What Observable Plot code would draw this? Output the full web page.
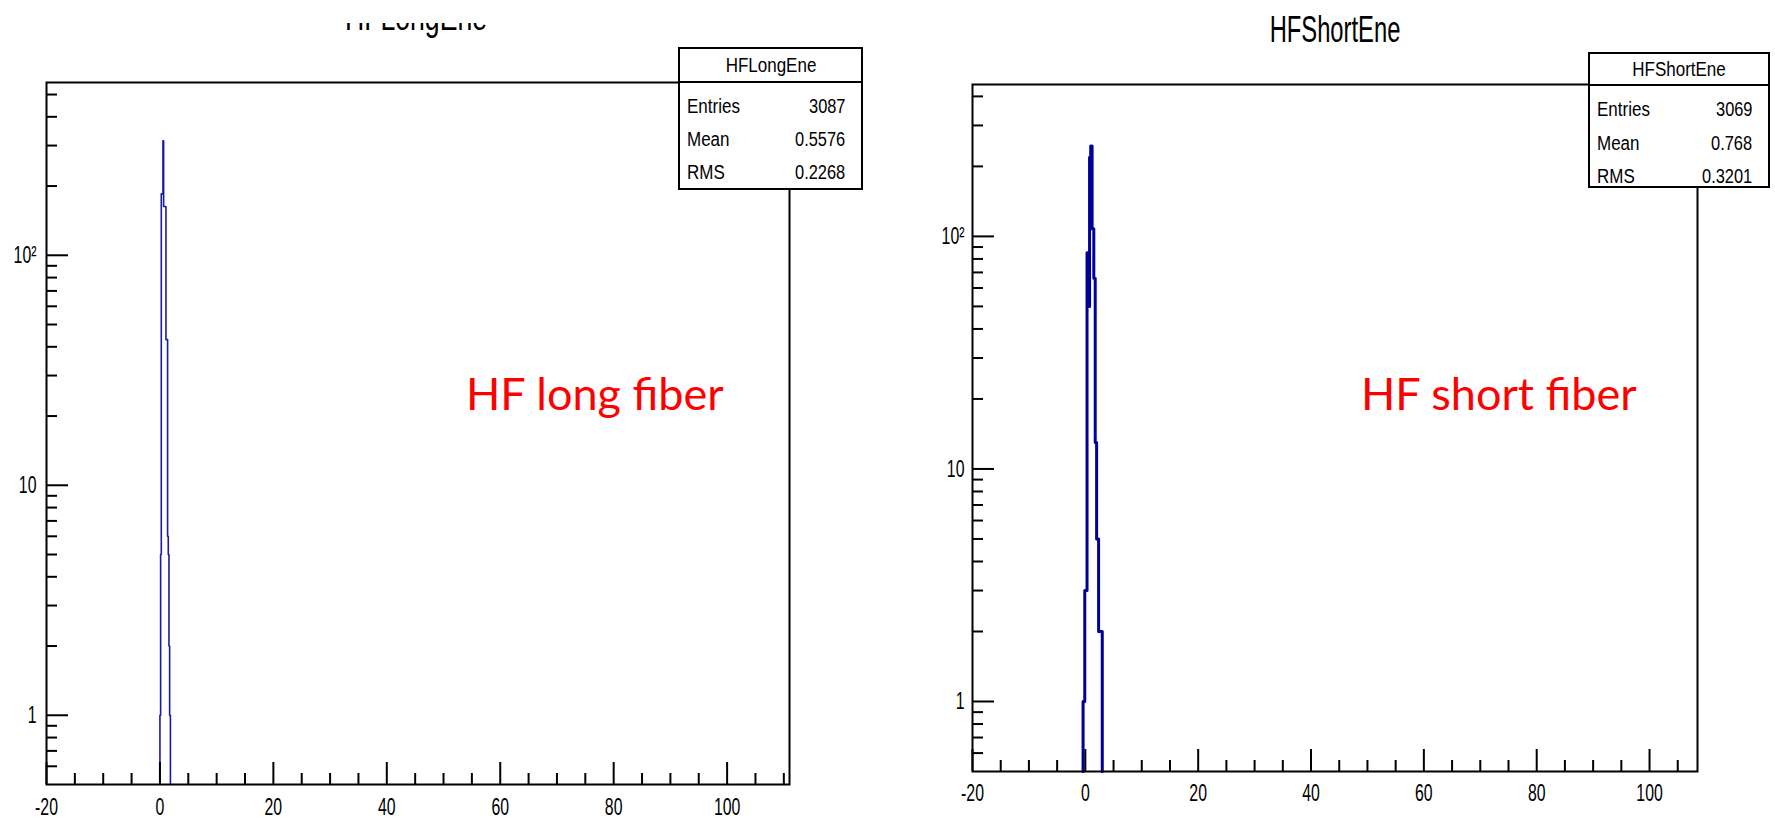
<!DOCTYPE html>
<html><head><meta charset="utf-8">
<script src="https://cdn.jsdelivr.net/npm/d3@7"></script>
<script src="https://cdn.jsdelivr.net/npm/@observablehq/plot@0.6"></script>
<style>
html,body{margin:0;padding:0;background:#fff;}
#wrap{position:relative;width:1775px;height:819px;overflow:hidden;background:#fff;font-family:"Liberation Sans",Arial,sans-serif;color:#000;}
.panel{position:absolute;top:0;}
.abs{position:absolute;white-space:nowrap;line-height:1;}
.sx{display:inline-block;}
.box{position:absolute;background:#fff;border:2px solid #000;box-sizing:border-box;}
.note{position:absolute;font-family:Lato,"Open Sans",sans-serif;color:#ff0000;font-size:45px;line-height:1;white-space:nowrap;}
</style></head>
<body><div id="wrap"></div>
<script>
// ---- data ----
const longEdges  = [0, 0.12, 0.24, 0.53, 0.65, 1.06, 1.35, 1.47, 1.59, 1.71, 1.85];
const longCounts = [1, 5, 185, 315, 163, 43, 6, 5, 2, 1];
const shortEdges  = [-0.4, -0.1, 0.3, 0.55, 0.75, 0.95, 1.2, 1.5, 1.75, 2.0, 2.35, 3.0];
const shortCounts = [1, 3, 85, 50, 219, 245, 108, 66, 13, 5, 2];
const xMajor = [-20, 0, 20, 40, 60, 80, 100];
const xMinor = [-15, -10, -5, 5, 10, 15, 25, 30, 35, 45, 50, 55, 65, 70, 75, 85, 90, 95, 105, 110];
const yMajor = [1, 10, 100];
const yMinor = [0.6, 0.7, 0.8, 0.9, 2, 3, 4, 5, 6, 7, 8, 9, 20, 30, 40, 50, 60, 70, 80, 90, 200, 300, 400, 500];
const yLabels = {1: "1", 10: "10", 100: "10²"};
const statNames = ["Entries", "Mean", "RMS"];
const longStats = ["3087", "0.5576", "0.2268"];
const shortStats = ["3069", "0.768", "0.3201"];

const H = 819;
const wrap = document.getElementById("wrap");

function stepPoints(edges, counts, base) {
  const pts = [{x: edges[0], y: base}];
  counts.forEach((c, i) => pts.push({x: edges[i], y: c}));
  pts.push({x: edges[edges.length - 1], y: base});
  return pts;
}

function panel(o) {
  const innerW = o.width - o.marginLeft - o.marginRight;
  const innerH = H - o.marginTop - o.marginBottom;
  const inX = v => v >= o.xDomain[0] && v <= o.xDomain[1];
  const inY = v => v >= o.yDomain[0] && v <= o.yDomain[1];
  const tk = {stroke: "black", strokeWidth: 2};
  const svg = Plot.plot({
    width: o.width, height: H,
    marginLeft: o.marginLeft, marginRight: o.marginRight, marginTop: o.marginTop, marginBottom: o.marginBottom,
    x: {domain: o.xDomain, axis: null},
    y: {type: "log", domain: o.yDomain, axis: null},
    style: {fontFamily: "'Liberation Sans', Arial, sans-serif", background: "transparent", overflow: "visible"},
    marks: [
      Plot.line(stepPoints(o.edges, o.counts, o.yDomain[0]), {x: "x", y: "y", curve: "step-after", stroke: o.stroke, strokeWidth: o.strokeWidth}),
      Plot.tickX(xMinor.filter(inX), {x: d => d, insetTop: innerH - 11, ...tk}),
      Plot.tickX(xMajor.filter(inX), {x: d => d, insetTop: innerH - 22, ...tk}),
      Plot.tickY(yMinor.filter(inY), {y: d => d, insetRight: innerW - 11, ...tk}),
      Plot.tickY(yMajor.filter(inY), {y: d => d, insetRight: innerW - 22, ...tk}),
      Plot.axisX(xMajor, {tickSize: 0, tickPadding: o.xPad, tickFormat: d => String(d), fontSize: 24, label: null}),
      Plot.axisY(yMajor, {tickSize: 0, tickPadding: o.yPad, tickFormat: d => yLabels[d], fontSize: 24, label: null}),
      Plot.frame({stroke: "black", strokeWidth: 2})
    ]
  });
  svg.querySelectorAll("text").forEach(t => {
    const tr = t.getAttribute("transform") || "";
    t.setAttribute("transform", tr + " scale(0.66,1)");
  });
  svg.classList.add("panel");
  svg.style.left = o.left + "px";
  wrap.appendChild(svg);
}

panel({left: 0, width: 880, marginLeft: 46, marginRight: 91, marginTop: 82, marginBottom: 35,
  xDomain: [-20, 111], yDomain: [0.5, 564], edges: longEdges, counts: longCounts,
  stroke: "#1a1aaa", strokeWidth: 1.6, xPad: 13, yPad: 10});
panel({left: 880, width: 895, marginLeft: 92, marginRight: 78, marginTop: 84, marginBottom: 48,
  xDomain: [-20, 108.5], yDomain: [0.5, 450], edges: shortEdges, counts: shortCounts,
  stroke: "#000099", strokeWidth: 3, xPad: 12, yPad: 8});

// text helper: absolutely placed text, baseline-ish via top, scaled horizontally
function txt(str, {x, top, size, sx, anchor = "start", parent = wrap, clip}) {
  const d = document.createElement("div");
  d.className = "abs";
  d.style.fontSize = size + "px";
  d.style.top = top + "px";
  const s = document.createElement("span");
  s.className = "sx";
  s.textContent = str;
  s.style.transform = `scaleX(${sx})`;
  if (anchor === "start") { d.style.left = x + "px"; s.style.transformOrigin = "0 50%"; }
  else if (anchor === "end") { d.style.right = (1775 - x) + "px"; s.style.transformOrigin = "100% 50%"; }
  else { d.style.left = x + "px"; d.style.transform = "translateX(-50%)"; s.style.transformOrigin = "50% 50%"; }
  d.appendChild(s);
  parent.appendChild(d);
  return d;
}

// titles
const clipDiv = document.createElement("div");
clipDiv.style.cssText = "position:absolute;left:0;top:23px;width:880px;height:30px;overflow:hidden;";
wrap.appendChild(clipDiv);
const lt = document.createElement("div");
lt.className = "abs";
lt.style.cssText += "font-size:36px;top:-23px;left:416px;transform:translateX(-50%);";
lt.innerHTML = '<span class="sx" style="transform:scaleX(0.74);transform-origin:50% 50%">HFLongEne</span>';
clipDiv.appendChild(lt);
txt("HFShortEne", {x: 1335, top: 12, size: 36, sx: 0.66, anchor: "middle"});

// stats boxes
function statsBox(name, vals, {l, t, r, b, hdr, lx, vx, rows}) {
  const box = document.createElement("div");
  box.className = "box";
  box.style.left = l + "px"; box.style.top = t + "px";
  box.style.width = (r - l) + "px"; box.style.height = (b - t) + "px";
  wrap.appendChild(box);
  const line = document.createElement("div");
  line.style.cssText = `position:absolute;left:${l}px;top:${hdr - 1}px;width:${r - l}px;height:2px;background:#000;`;
  wrap.appendChild(line);
  txt(name, {x: (l + r) / 2, top: (t + hdr) / 2 - 10, size: 20, sx: 0.85, anchor: "middle"});
  statNames.forEach((n, i) => {
    txt(n, {x: lx, top: rows[i] - 10, size: 20, sx: 0.85, anchor: "start"});
    txt(vals[i], {x: vx, top: rows[i] - 10, size: 20, sx: 0.82, anchor: "end"});
  });
}
statsBox("HFLongEne", longStats, {l: 678, t: 47, r: 863, b: 190, hdr: 82, lx: 687, vx: 845, rows: [106, 139, 172]});
statsBox("HFShortEne", shortStats, {l: 1588, t: 52, r: 1770, b: 188, hdr: 85, lx: 1597, vx: 1752, rows: [109, 143, 176]});

// red annotations
function note(str, x, top) {
  const d = document.createElement("div");
  d.className = "note";
  d.style.left = x + "px"; d.style.top = top + "px";
  d.textContent = str;
  wrap.appendChild(d);
}
note("HF long fiber", 466, 371);
note("HF short fiber", 1361, 371);
</script>
</body></html>
